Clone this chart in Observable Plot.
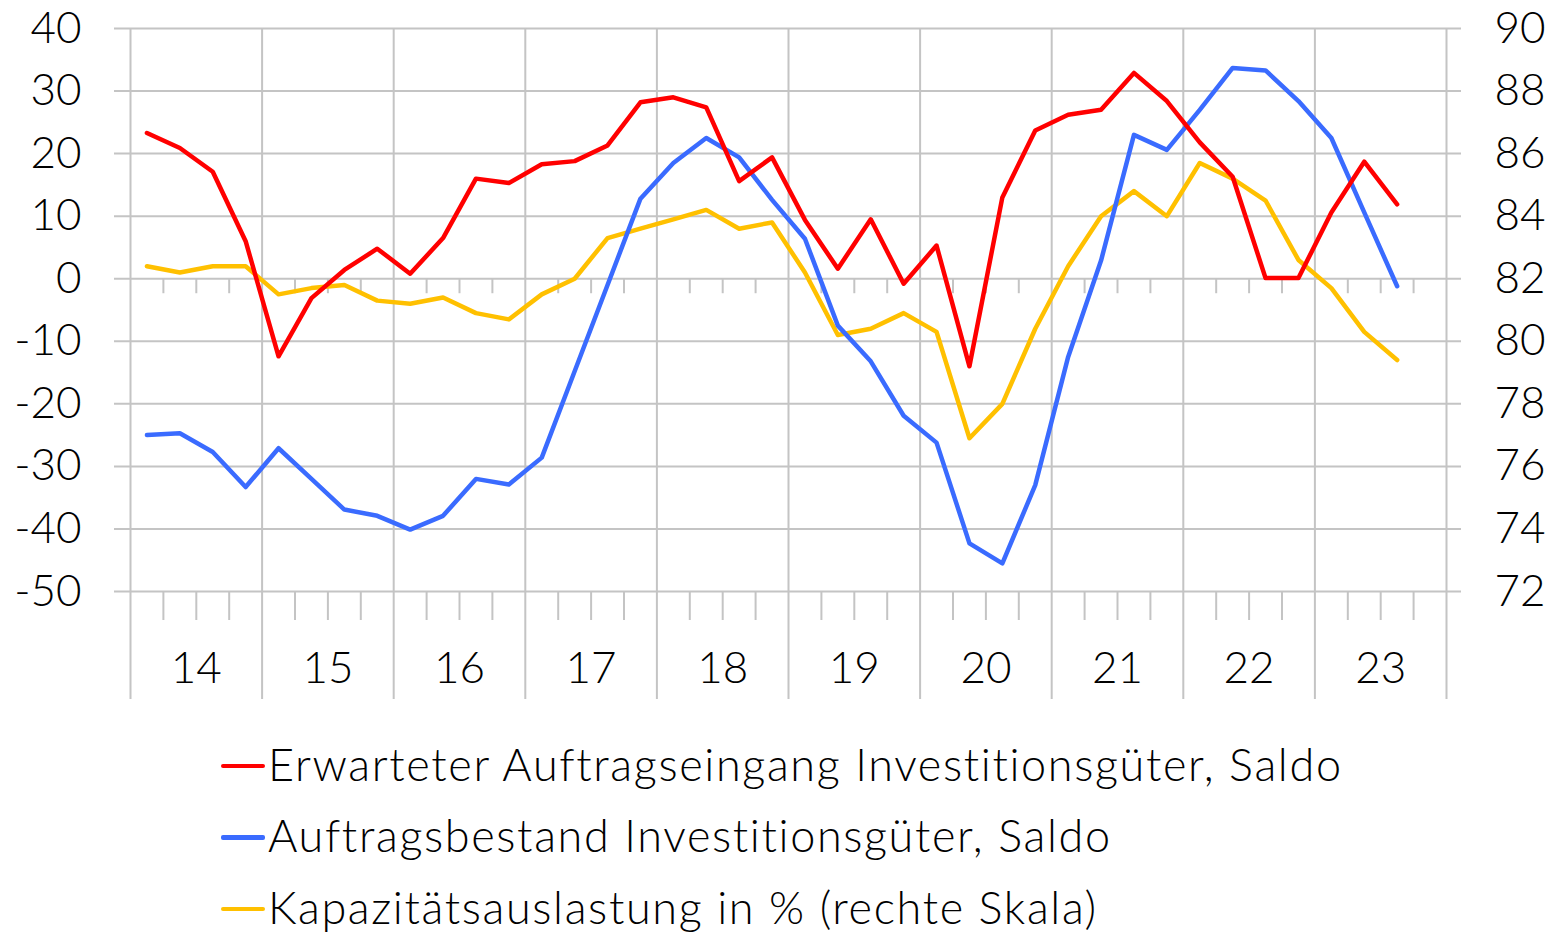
<!DOCTYPE html>
<html>
<head>
<meta charset="utf-8">
<script src="https://cdn.jsdelivr.net/npm/d3@7"></script>
<script src="https://cdn.jsdelivr.net/npm/@observablehq/plot@0.6"></script>
<style>
  body { margin: 0; background: #fff; }
  #wrap { position: relative; width: 1553px; height: 934px; background: #fff; font-family: Lato, "Open Sans", sans-serif; }
  #wrap svg text { font-weight: 300; fill: #000; }
  .legend { position: absolute; left: 221px; top: 728px; }
  .row { display: flex; align-items: center; height: 71.5px; font-size: 45px; font-weight: 300; color: #000; white-space: nowrap; }
  .sw { width: 44px; height: 4.5px; border-radius: 2px; margin-right: 3px; margin-top: 4px; flex: none; }
</style>
</head>
<body>
<div id="wrap"></div>
<script>
// ---- data (quarterly, 2014 Q1 – 2023 Q3) ----
const years = ["14", "15", "16", "17", "18", "19", "20", "21", "22", "23"];
const quarterLabels = [
  "14Q1","14Q2","14Q3","14Q4","15Q1","15Q2","15Q3","15Q4","16Q1","16Q2","16Q3","16Q4",
  "17Q1","17Q2","17Q3","17Q4","18Q1","18Q2","18Q3","18Q4","19Q1","19Q2","19Q3","19Q4",
  "20Q1","20Q2","20Q3","20Q4","21Q1","21Q2","21Q3","21Q4","22Q1","22Q2","22Q3","22Q4",
  "23Q1","23Q2","23Q3"
];
// Erwarteter Auftragseingang Investitionsgüter, Saldo (left scale)
const erwartet = [
  23.3, 20.9, 17.1, 6.0, -12.4, -3.1, 1.4, 4.8, 0.8, 6.5, 16.0, 15.3,
  18.3, 18.8, 21.3, 28.2, 29.0, 27.4, 15.6, 19.4, 9.4, 1.6, 9.5, -0.8,
  5.3, -14.0, 13.0, 23.7, 26.2, 27.0, 32.9, 28.4, 21.8, 16.3, 0.1, 0.1,
  10.6, 18.7, 11.9
];
// Auftragsbestand Investitionsgüter, Saldo (left scale)
const bestand = [
  -25.0, -24.7, -27.7, -33.3, -27.1, -32.0, -36.9, -37.9, -40.1, -37.9, -32.0, -32.9,
  -28.6, -14.8, -1.0, 12.8, 18.5, 22.5, 19.4, 12.6, 6.4, -7.5, -13.2, -21.9,
  -26.2, -42.3, -45.5, -33.0, -12.5, 2.9, 23.0, 20.6, 27.0, 33.7, 33.3, 28.4,
  22.5, 10.6, -1.2
];
// Kapazitätsauslastung in % (right scale)
const kapazitaet = [
  82.4, 82.2, 82.4, 82.4, 81.5, 81.7, 81.8, 81.3, 81.2, 81.4, 80.9, 80.7,
  81.5, 82.0, 83.3, 83.6, 83.9, 84.2, 83.6, 83.8, 82.2, 80.2, 80.4, 80.9,
  80.3, 76.9, 78.0, 80.4, 82.4, 84.0, 84.8, 84.0, 85.7, 85.2, 84.5, 82.6,
  81.7, 80.3, 79.4
];
const leftTicks = [-50, -40, -30, -20, -10, 0, 10, 20, 30, 40];
const rightTicks = [72, 74, 76, 78, 80, 82, 84, 86, 88, 90];
const seriesNames = [
  "Erwarteter Auftragseingang Investitionsgüter, Saldo",
  "Auftragsbestand Investitionsgüter, Saldo",
  "Kapazitätsauslastung in % (rechte Skala)"
];
const seriesColors = ["#FF0000", "#3A6BFF", "#FFC000"];

// right scale -> left scale mapping (72..90 <-> -50..40)
const r2l = r => (r - 82) * 5;

const nQ = years.length * 4;
const rows = quarterLabels.map((q, i) => ({
  q, pos: i + 0.5, red: erwartet[i], blue: bestand[i], gold: r2l(kapazitaet[i])
}));
const yearBounds = d3.range(0, nQ + 1, 4);
const quarterBounds = d3.range(1, nQ).filter(d => d % 4 !== 0);

const GRID = "#c4c4c4";
const FS = 44;
const LW = 4.5;

const chart = Plot.plot({
  width: 1553,
  height: 720,
  marginLeft: 130,
  marginRight: 107,
  marginTop: 28,
  marginBottom: 129,
  x: { domain: [0, nQ], axis: null },
  y: { domain: [-50, 40], axis: null },
  style: { background: "#fff", fontFamily: "Lato, 'Open Sans', sans-serif", fontSize: FS + "px", overflow: "visible" },
  marks: [
    Plot.ruleY(leftTicks, { y: d => d, x1: 0, x2: nQ, insetLeft: -16, insetRight: -15, stroke: GRID, strokeWidth: 2 }),
    Plot.ruleX(yearBounds, { x: d => d, y1: 40, y2: -50, insetBottom: -108, stroke: GRID, strokeWidth: 2 }),
    Plot.ruleX(quarterBounds, { x: d => d, y1: -50, y2: -50, insetBottom: -29, stroke: GRID, strokeWidth: 2 }),
    Plot.ruleX(quarterBounds, { x: d => d, y1: 0, y2: 0, insetBottom: -15, stroke: GRID, strokeWidth: 2 }),
    Plot.axisY(leftTicks, { anchor: "left", tickSize: 0, tickPadding: 49, fontSize: FS, tickFormat: d => String(d) }),
    Plot.axisY(rightTicks.map(r2l), { anchor: "right", tickSize: 0, tickPadding: 48, fontSize: FS, tickFormat: (d, i) => String(rightTicks[i]) }),
    Plot.text(years, { x: (d, i) => 4 * i + 2, y: -50, dy: 77, text: d => d, fontSize: FS, lineAnchor: "middle" }),
    Plot.line(rows, { x: "pos", y: "gold", stroke: seriesColors[2], strokeWidth: LW, strokeLinecap: "round", strokeLinejoin: "round" }),
    Plot.line(rows, { x: "pos", y: "blue", stroke: seriesColors[1], strokeWidth: LW, strokeLinecap: "round", strokeLinejoin: "round" }),
    Plot.line(rows, { x: "pos", y: "red", stroke: seriesColors[0], strokeWidth: LW, strokeLinecap: "round", strokeLinejoin: "round" })
  ]
});

const wrap = document.getElementById("wrap");
wrap.appendChild(chart);

const legend = document.createElement("div");
legend.className = "legend";
const labels = [];
seriesNames.forEach((name, i) => {
  const row = document.createElement("div");
  row.className = "row";
  const sw = document.createElement("span");
  sw.className = "sw";
  sw.style.background = seriesColors[i];
  const t = document.createElement("span");
  t.textContent = name;
  row.appendChild(sw);
  row.appendChild(t);
  legend.appendChild(row);
  labels.push(t);
});
wrap.appendChild(legend);

// widen legend text to the reference's text width (first entry ≈ 1075px)
const w0 = labels[0].getBoundingClientRect().width;
const ls = Math.max(0, (1075 - w0) / seriesNames[0].length);
labels.forEach(t => { t.style.letterSpacing = ls.toFixed(2) + "px"; });
</script>
</body>
</html>
